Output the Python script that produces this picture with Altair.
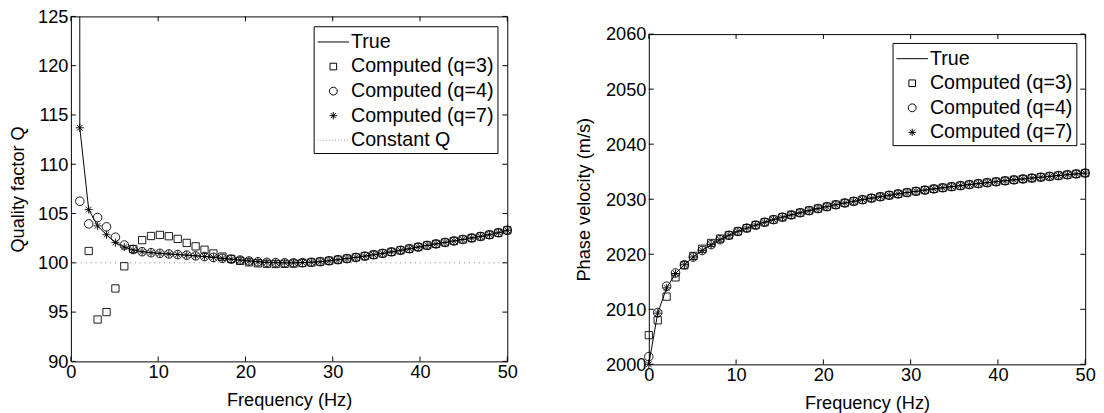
import altair as alt
import pandas as pd

# ---------------- data ----------------
freq = [0.00, 1.02, 2.04, 3.06, 4.08, 5.10, 6.12, 7.14, 8.16, 9.18,
        10.20, 11.22, 12.24, 13.27, 14.29, 15.31, 16.33, 17.35, 18.37, 19.39,
        20.41, 21.43, 22.45, 23.47, 24.49, 25.51, 26.53, 27.55, 28.57, 29.59,
        30.61, 31.63, 32.65, 33.67, 34.69, 35.71, 36.73, 37.76, 38.78, 39.80,
        40.82, 41.84, 42.86, 43.88, 44.90, 45.92, 46.94, 47.96, 48.98, 50.00]

x_ticks = [0, 10, 20, 30, 40, 50]
q_ticks = [90, 95, 100, 105, 110, 115, 120, 125]
v_ticks = [2000, 2010, 2020, 2030, 2040, 2050, 2060]

# Quality factor (left panel)
q_true = [5000, 113.7, 105.4, 103.75, 102.85, 102.05, 101.6, 101.3, 101.13, 101.03,
          100.96, 100.9, 100.84, 100.78, 100.71, 100.64, 100.55, 100.46, 100.37, 100.28,
          100.19, 100.11, 100.05, 100.02, 100.0, 100.0, 100.02, 100.06, 100.12, 100.21,
          100.32, 100.43, 100.55, 100.68, 100.82, 100.96, 101.11, 101.27, 101.43, 101.6,
          101.77, 101.92, 102.07, 102.22, 102.37, 102.52, 102.68, 102.85, 103.05, 103.3]
q_q7 = [None] + q_true[1:]
q_q4 = [None, 106.25, 103.95, 104.6, 103.65, 102.6, 101.8, 101.35] + q_true[8:]
q_q3 = [None, None, 101.2, 94.25, 95.0, 97.4, 99.65, 101.4, 102.3, 102.72,
        102.83, 102.7, 102.43, 102.02, 101.67, 101.33, 100.95, 100.63, 100.4, 100.2,
        100.05, 99.95, 99.9, 99.88, 99.9, 99.93, 99.98, 100.04] + q_true[28:]
const_freq = [0, 50]
const_q = [100, 100]

# Phase velocity (right panel)
v_true = [2000.0, 2009.3, 2013.9, 2016.5, 2018.1, 2019.5, 2020.7, 2021.75, 2022.65, 2023.45,
          2024.15, 2024.75, 2025.3, 2025.82, 2026.3, 2026.74, 2027.15, 2027.55, 2027.93, 2028.3,
          2028.65, 2029.0, 2029.32, 2029.62, 2029.92, 2030.2, 2030.46, 2030.72, 2030.97, 2031.21,
          2031.44, 2031.66, 2031.88, 2032.08, 2032.28, 2032.47, 2032.66, 2032.84, 2033.01, 2033.18,
          2033.35, 2033.52, 2033.68, 2033.84, 2034.0, 2034.15, 2034.3, 2034.45, 2034.6, 2034.75]
v_q7 = list(v_true)
v_q4 = [2001.4, 2009.4, 2014.2, 2016.6] + v_true[4:]
v_q3 = [2005.3, 2008.0, 2012.3, 2015.8, 2018.0, 2019.7, 2021.0, 2022.05, 2022.85] + v_true[9:]

names_left = ["True", "Computed (q=3)", "Computed (q=4)", "Computed (q=7)", "Constant Q"]
names_right = names_left[:4]

# ---------------- style ----------------
FONT = "Liberation Sans"
FS = 18.5
LFS = 20
W = 444
TICK = 5

LINE = "M-1.28,0L1.28,0"
SQUARE = "M-0.27,-0.27L0.27,-0.27L0.27,0.27L-0.27,0.27Z"
CIRCLE = "M0.32,0A0.32,0.32,0,1,1,-0.32,0A0.32,0.32,0,1,1,0.32,0Z"
STAR = "M-0.3,0L0.3,0M0,-0.3L0,0.3M-0.21,-0.21L0.21,0.21M-0.21,0.21L0.21,-0.21"
DOTS = "".join(f"M{-1.28 + 0.24 * i:.2f},0L{-1.28 + 0.24 * i + 0.06:.2f},0" for i in range(11))


def panel(true_vals, series, y_dom, y_ticks, y_title, names, shapes, colors,
          height, leg_offset, title_pad, const=None):
    X = alt.X("f:Q", scale=alt.Scale(domain=[0, 50], nice=False, zero=False),
              axis=alt.Axis(values=x_ticks, title="Frequency (Hz)", format="d",
                            labelFlush=False))
    Y = alt.Y("v:Q", scale=alt.Scale(domain=y_dom, nice=False, zero=False),
              axis=alt.Axis(values=y_ticks, title=y_title, format="d",
                            titlePadding=title_pad))
    true_df = pd.DataFrame({"f": freq, "v": true_vals})
    rows = []
    for name, vals in series:
        for f, v in zip(freq, vals):
            if v is not None:
                rows.append({"f": f, "v": v, "series": name})
    pts = pd.DataFrame(rows)
    leg = alt.Legend(title=None, orient="top-right", offset=leg_offset)
    layers = [
        alt.Chart(true_df).mark_line(color="black", strokeWidth=1, clip=True).encode(x=X, y=Y)
    ]
    if const is not None:
        cdf = pd.DataFrame({"f": const[0], "v": const[1]})
        layers.append(alt.Chart(cdf).mark_line(color="#808080", strokeWidth=1,
                                               strokeDash=[1, 4]).encode(x=X, y=Y))
    layers.append(
        alt.Chart(pts).mark_point(filled=False, size=750, strokeWidth=0.9, opacity=1).encode(
            x=X, y=Y,
            shape=alt.Shape("series:N", scale=alt.Scale(domain=names, range=shapes), legend=leg),
            color=alt.Color("series:N", scale=alt.Scale(domain=names, range=colors), legend=leg),
        )
    )
    xt = pd.DataFrame({"f": x_ticks})
    yt = pd.DataFrame({"v": y_ticks})
    layers += [
        alt.Chart(xt).mark_rule(color="black", strokeWidth=1).encode(
            x=X, y=alt.value(0), y2=alt.value(TICK)),
        alt.Chart(xt).mark_rule(color="black", strokeWidth=1).encode(
            x=X, y=alt.value(height), y2=alt.value(height - TICK)),
        alt.Chart(yt).mark_rule(color="black", strokeWidth=1).encode(
            y=Y, x=alt.value(0), x2=alt.value(TICK)),
        alt.Chart(yt).mark_rule(color="black", strokeWidth=1).encode(
            y=Y, x=alt.value(W), x2=alt.value(W - TICK)),
    ]
    return alt.layer(*layers).properties(width=W, height=height)


left = panel(
    q_true,
    [("Computed (q=3)", q_q3), ("Computed (q=4)", q_q4), ("Computed (q=7)", q_q7)],
    [90, 125], q_ticks, "Quality factor Q", names_left,
    [LINE, SQUARE, CIRCLE, STAR, DOTS],
    ["black", "black", "black", "black", "#808080"],
    351, 10, 10, const=(const_freq, const_q),
)

right = panel(
    v_true,
    [("Computed (q=3)", v_q3), ("Computed (q=4)", v_q4), ("Computed (q=7)", v_q7)],
    [2000, 2060], v_ticks, "Phase velocity (m/s)", names_right,
    [LINE, SQUARE, CIRCLE, STAR],
    ["black", "black", "black", "black"],
    336, 9, 12,
)

spacer = (
    alt.Chart(pd.DataFrame({"a": [0]}))
    .mark_point(opacity=0)
    .encode(x=alt.value(0), y=alt.value(0))
    .properties(width=W, height=7, view=alt.ViewBackground(stroke="transparent"))
)

right_col = (
    alt.vconcat(spacer, right, spacing=0)
    .resolve_scale(shape="independent", color="independent")
    .resolve_legend(shape="independent", color="independent")
)

chart = (
    alt.hconcat(left, right_col, spacing=57)
    .resolve_scale(x="independent", y="independent", shape="independent", color="independent")
    .resolve_legend(shape="independent", color="independent")
    .properties(padding={"top": -5, "left": 0, "right": 0, "bottom": 0}, background="white")
    .configure_view(stroke="black", strokeWidth=1)
    .configure_axis(labelFont=FONT, labelFontSize=FS, titleFont=FONT, titleFontSize=FS,
                    titleFontWeight="normal", labelColor="black", titleColor="black",
                    ticks=False, domain=False, grid=False)
    .configure_axisX(labelPadding=1, titlePadding=10)
    .configure_axisY(labelPadding=3)
    .configure_legend(labelFont=FONT, labelFontSize=LFS, labelColor="black",
                      strokeColor="black", fillColor="white", padding=3,
                      symbolSize=625, symbolStrokeWidth=1, symbolOpacity=1,
                      labelOffset=5, rowPadding=2, symbolOffset=4, cornerRadius=0,
                      labelLimit=400)
)

chart.save("out.html", embed_options={"renderer": "svg", "actions": False})
